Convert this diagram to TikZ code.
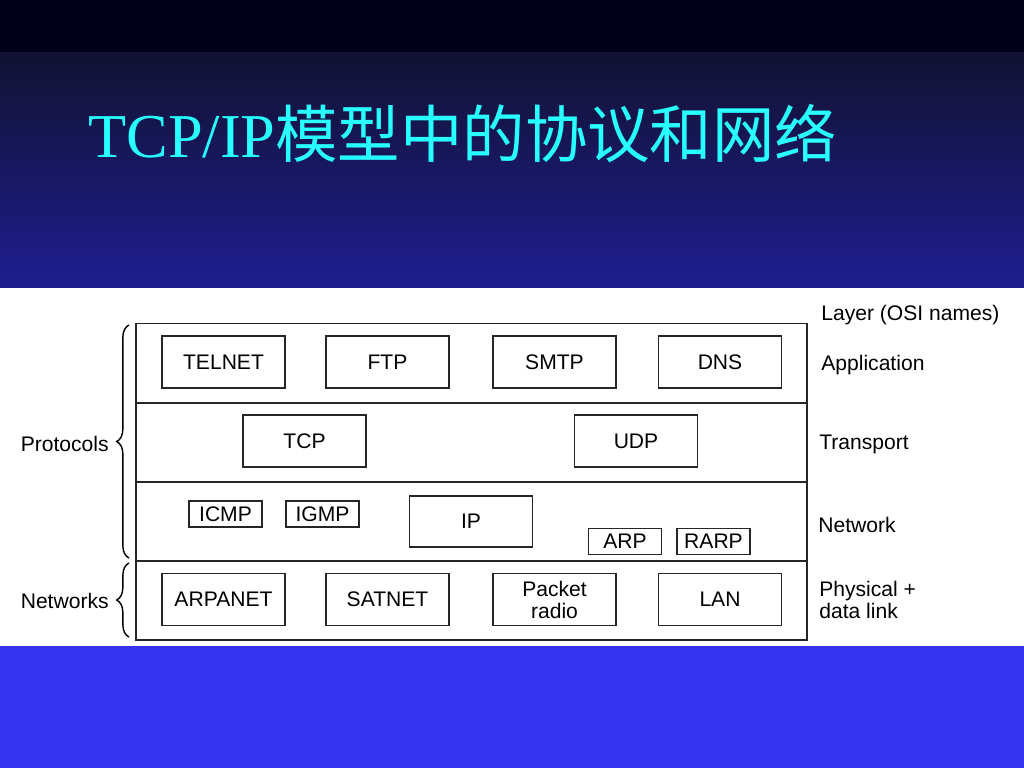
\documentclass[tikz,border=0pt]{standalone}
\usepackage{fontspec}
\setmainfont{Liberation Serif}
\setsansfont{Liberation Sans}
\newfontfamily\cjk{Noto Sans CJK SC}
\usepackage{xcolor}
\usetikzlibrary{positioning,decorations.pathreplacing}
\definecolor{topband}{RGB}{0,0,26}
\definecolor{gradtop}{RGB}{18,18,50}
\definecolor{gradbot}{RGB}{30,30,145}
\definecolor{lowband}{RGB}{52,52,240}
\definecolor{titlecyan}{RGB}{40,255,255}
\tikzset{box/.style={draw=black!85,line width=0.8pt,minimum width=2.46cm,minimum height=1.04cm,inner sep=0pt,font=\sffamily\fontsize{12}{13}\selectfont,align=center},
  small/.style={box,minimum width=1.46cm,minimum height=0.52cm},
  row/.style={draw=black!85,line width=0.8pt,minimum width=13.42cm,minimum height=1.58cm,inner sep=0pt},
  txt/.style={font=\sffamily\fontsize{12}{13}\selectfont,inner sep=0pt,align=left},
  brc/.style={decorate,decoration={brace,amplitude=7pt},line width=0.8pt}}

\begin{document}
\begin{tikzpicture}[x=0.02cm,y=-0.02cm]
    % background bands
    \fill[topband] (0,0) rectangle (1024,52);
    \shade[top color=gradtop,bottom color=gradbot] (0,52) rectangle (1024,288);
    \fill[white] (0,288) rectangle (1024,646);
    \fill[lowband] (0,646) rectangle (1024,768);
    \useasboundingbox (0,0) rectangle (1024,768);

    \node[anchor=base west,inner sep=0pt,text=titlecyan,font=\fontsize{35.5}{40}\selectfont] (title) at (88,157) {TCP/IP{\cjk 模型中的协议和网络}};

    % layers
    \node[row] (app) at (471.5,363) {};
    \node[row] (trans) at (471.5,442.5) {};
    \node[row] (net) at (471.5,521.5) {};
    \node[row] (phys) at (471.5,600.5) {};

    \node[box] (telnet) at (223.5,362) {TELNET};
    \node[box] (ftp) at (387.5,362) {FTP};
    \node[box] (smtp) at (554.5,362) {SMTP};
    \node[box] (dns) at (720,362) {DNS};

    \node[box] (tcp) at (304.5,441) {TCP};
    \node[box] (udp) at (636,441) {UDP};

    \node[small] (icmp) at (225.5,514) {ICMP};
    \node[small] (igmp) at (322.5,514) {IGMP};
    \node[box,minimum height=1.02cm] (ip) at (471,521.5) {IP};
    \node[small] (arp) at (625,541.5) {ARP};
    \node[small] (rarp) at (713.5,541.5) {RARP};

    \node[box] (arpanet) at (223.5,599.5) {ARPANET};
    \node[box] (satnet) at (387.5,599.5) {SATNET};
    \node[box,font=\sffamily\fontsize{12}{12.5}\selectfont] (packet) at (554.5,599.5) {Packet\\radio};
    \node[box] (lan) at (720,599.5) {LAN};

    % OSI names
    \node[txt,anchor=west] (osi) at (821,315) {Layer (OSI names)};
    \node[txt,anchor=west] (lapp) at (821,365) {Application};
    \node[txt,anchor=west] (ltrans) at (819,444) {Transport};
    \node[txt,anchor=west] (lnet) at (818,525) {Network};
    \node[txt,anchor=west] (lphys) at (819,600) {Physical +\\data link};

    % braces
    \coordinate (pb) at (129,558);
    \coordinate (pt) at (129,325);
    \coordinate (nb) at (129,637);
    \coordinate (nt) at (129,563);
    \draw[brc] (pb) -- (pt);
    \draw[brc] (nb) -- (nt);
    \node[txt,anchor=east] (prot) at (109,444) {Protocols};
    \node[txt,anchor=east] (nets) at (109,601) {Networks};
\end{tikzpicture}
\end{document}
